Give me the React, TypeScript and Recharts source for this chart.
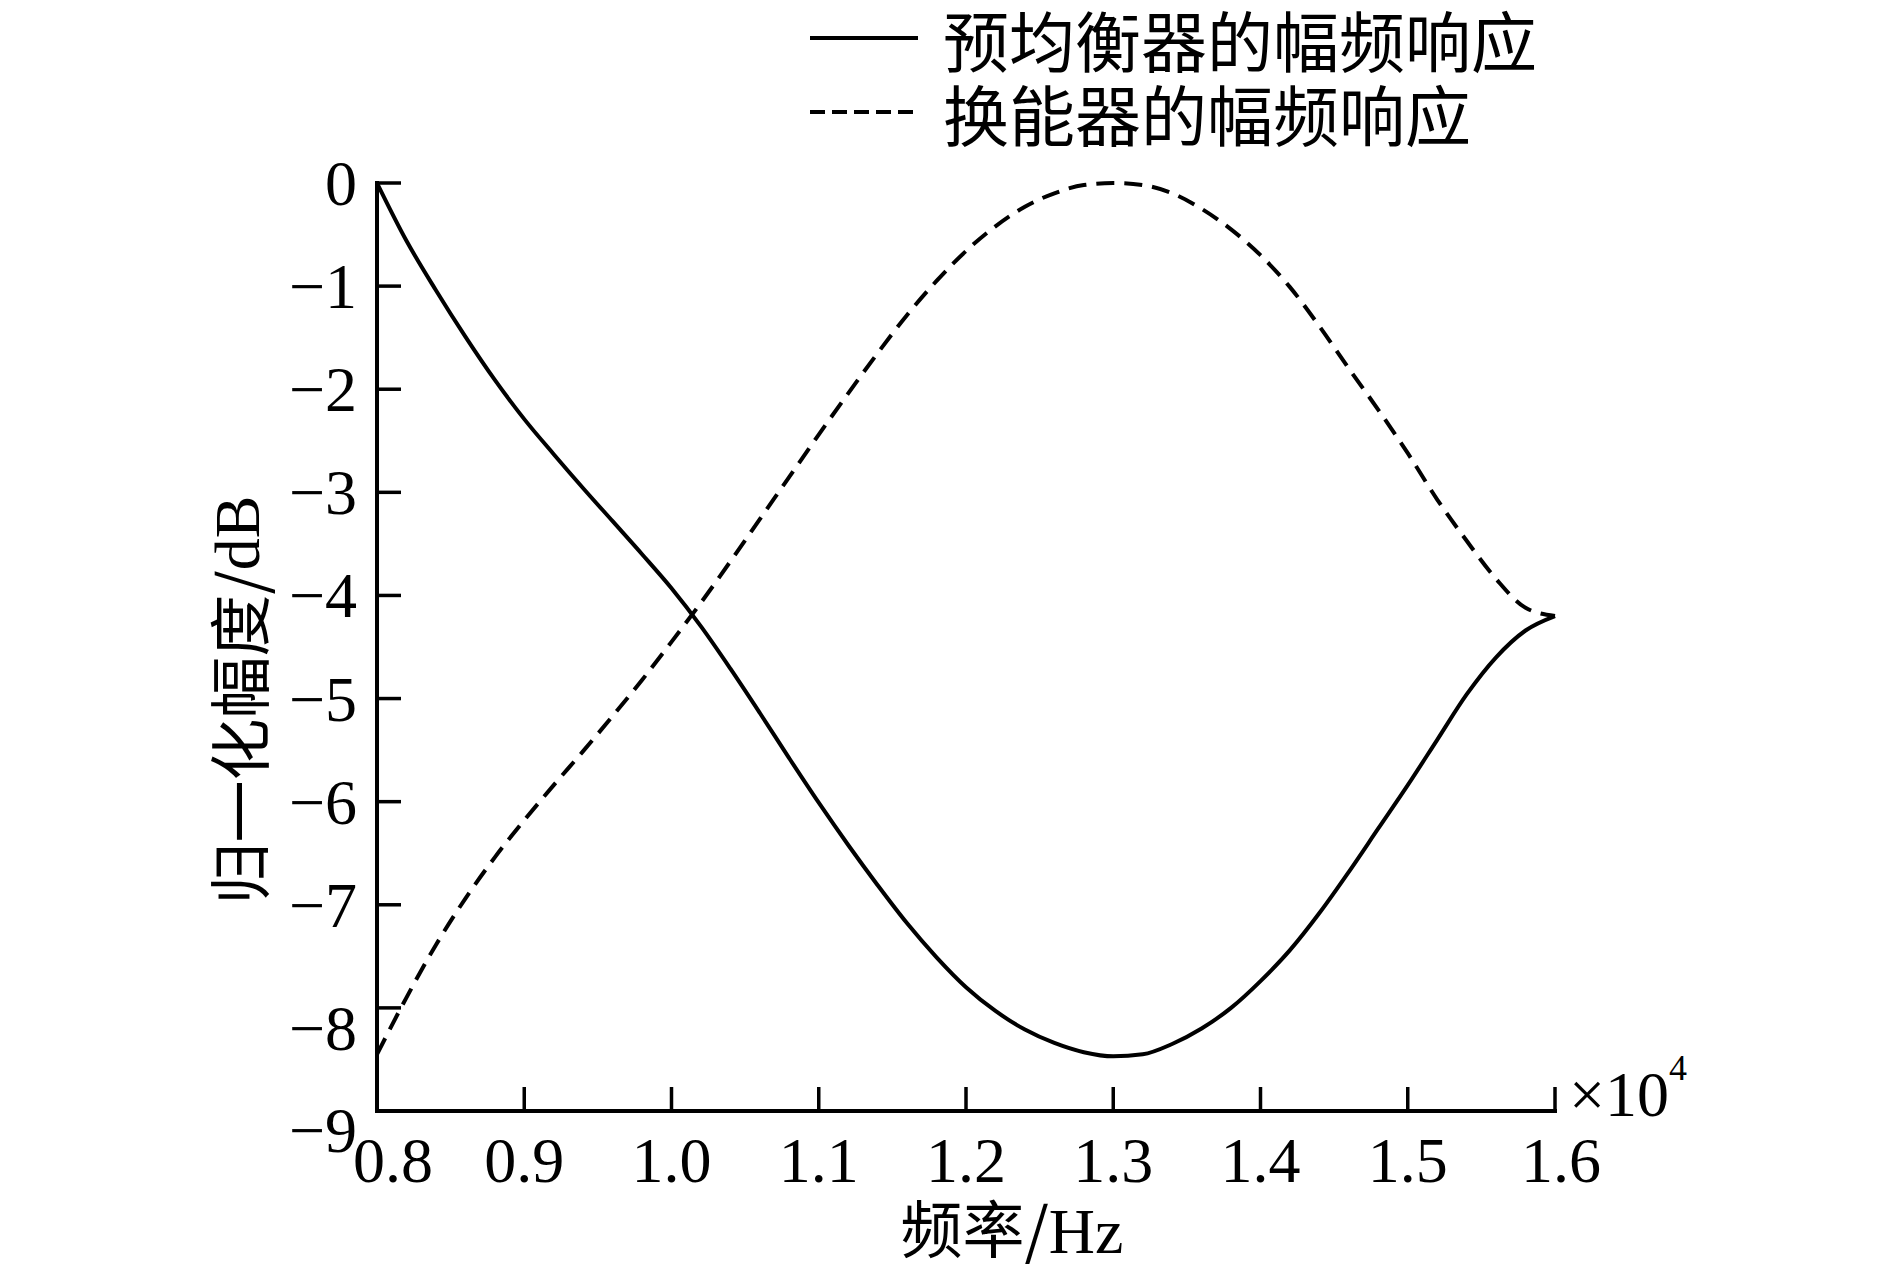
import { LineChart, Line, XAxis, YAxis, Label } from "recharts";

// frequency in units of 1e4 Hz
const freq = [
  0.8, 0.82, 0.84, 0.86, 0.88, 0.9, 0.92, 0.94, 0.96, 0.98, 1.0, 1.02, 1.04,
  1.06, 1.08, 1.1, 1.12, 1.14, 1.16, 1.18, 1.2, 1.22, 1.24, 1.26, 1.28, 1.3,
  1.32, 1.34, 1.36, 1.38, 1.4, 1.42, 1.44, 1.46, 1.48, 1.5, 1.52, 1.54, 1.56,
  1.58, 1.6,
];

// 预均衡器的幅频响应 (solid)
const equalizerDb = [
  0, -0.56, -1.04, -1.49, -1.91, -2.29, -2.63, -2.96, -3.28, -3.6, -3.93,
  -4.3, -4.71, -5.14, -5.58, -6.01, -6.42, -6.81, -7.18, -7.51, -7.8, -8.03,
  -8.21, -8.34, -8.43, -8.47, -8.45, -8.35, -8.2, -8.0, -7.74, -7.44, -7.08,
  -6.68, -6.26, -5.84, -5.4, -4.96, -4.6, -4.34, -4.2,
];

// 换能器的幅频响应 (dashed)
const transducerDb = [
  -8.45, -7.9, -7.39, -6.94, -6.54, -6.18, -5.84, -5.51, -5.17, -4.82, -4.45,
  -4.07, -3.67, -3.26, -2.85, -2.44, -2.04, -1.65, -1.28, -0.95, -0.66, -0.42,
  -0.23, -0.1, -0.02, 0, -0.02, -0.1, -0.25, -0.45, -0.7, -1.01, -1.39, -1.8,
  -2.2, -2.62, -3.07, -3.47, -3.84, -4.12, -4.2,
];

const xTicks = [0.8, 0.9, 1.0, 1.1, 1.2, 1.3, 1.4, 1.5, 1.6];
const yTicks = [0, -1, -2, -3, -4, -5, -6, -7, -8, -9];

const legendItems = ["预均衡器的幅频响应", "换能器的幅频响应"];

const chartData = freq.map((f, i) => ({
  f,
  eq: equalizerDb[i],
  tr: transducerDb[i],
}));

const SERIF = "'Liberation Serif', 'Times New Roman', serif";
const CJK = "'Noto Sans CJK SC', sans-serif";
const DASH = "18 10";

// the original figure nudges a few labels away from the curves
const yLabelNudge: Record<number, number> = { [-8]: 20, [-9]: 19 };
const xLabelNudge: Record<number, number> = { 0.8: 16, 1.6: 6 };

const YTick = (props: any) => {
  const { x, y, payload } = props;
  const v = payload.value as number;
  const txt = v === 0 ? "0" : "\u2212" + Math.abs(v);
  return (
    <g>
      <line x1={x} x2={x + 24} y1={y} y2={y} stroke="#000" strokeWidth={3.5} />
      <text
        x={x - 20}
        y={y + 22 + (yLabelNudge[v] || 0)}
        textAnchor="end"
        fontFamily={SERIF}
        fontSize={64}
        fill="#000"
      >
        {txt}
      </text>
    </g>
  );
};

const XTick = (props: any) => {
  const { x, y, payload } = props;
  const v = payload.value as number;
  return (
    <g>
      <line x1={x} x2={x} y1={y} y2={y - 24} stroke="#000" strokeWidth={3.5} />
      <text
        x={x + (xLabelNudge[v] || 0)}
        y={y + 71}
        textAnchor="middle"
        fontFamily={SERIF}
        fontSize={64}
        fill="#000"
      >
        {v.toFixed(1)}
      </text>
    </g>
  );
};

export default function App() {
  return (
    <div
      style={{
        position: "absolute",
        left: 0,
        top: 0,
        width: 1889,
        height: 1267,
        background: "#fff",
      }}
    >
      <LineChart
        width={1889}
        height={1267}
        data={chartData}
        margin={{ top: 183, right: 334, bottom: 96, left: 277 }}
      >
        <XAxis
          type="number"
          dataKey="f"
          domain={[0.8, 1.6]}
          ticks={xTicks}
          height={60}
          tickSize={0}
          tickMargin={0}
          tickLine={false}
          tick={<XTick />}
          axisLine={{ stroke: "#000", strokeWidth: 4, strokeLinecap: "square" }}
        >
          <Label
            content={(p: any) => {
              const vb = p.viewBox;
              return (
                <g>
                  <text
                    x={vb.x + vb.width + 14}
                    y={vb.y + 5}
                    fontFamily={SERIF}
                    fontSize={64}
                    fill="#000"
                  >
                    ×10
                    <tspan fontSize={36} dy={-36}>
                      4
                    </tspan>
                  </text>
                  <text
                    x={vb.x + vb.width / 2 + 46}
                    y={vb.y + 142}
                    textAnchor="middle"
                    fontFamily={CJK}
                    fontSize={62}
                    fill="#000"
                  >
                    频率/
                    <tspan fontFamily={SERIF} fontSize={64}>
                      Hz
                    </tspan>
                  </text>
                </g>
              );
            }}
          />
        </XAxis>
        <YAxis
          type="number"
          domain={[-9, 0]}
          ticks={yTicks}
          width={100}
          tickSize={0}
          tickMargin={0}
          tickLine={false}
          tick={<YTick />}
          axisLine={{ stroke: "#000", strokeWidth: 4, strokeLinecap: "square" }}
        >
          <Label
            content={(p: any) => {
              const vb = p.viewBox;
              const cx = vb.x - 40;
              const cy = vb.y + vb.height / 2 + 53;
              return (
                <text
                  x={cx}
                  y={cy}
                  transform={`rotate(-90 ${cx} ${cy})`}
                  textAnchor="middle"
                  dominantBaseline="central"
                  fontFamily={CJK}
                  fontSize={62}
                  fill="#000"
                >
                  归一化幅度/
                  <tspan fontFamily={SERIF} fontSize={64}>
                    dB
                  </tspan>
                </text>
              );
            }}
          />
        </YAxis>
        <Line
          type="monotone"
          dataKey="eq"
          stroke="#000"
          strokeWidth={4}
          dot={false}
          isAnimationActive={false}
        />
        <Line
          type="monotone"
          dataKey="tr"
          stroke="#000"
          strokeWidth={4}
          strokeDasharray={DASH}
          dot={false}
          isAnimationActive={false}
        />
      </LineChart>
      <svg
        width={1889}
        height={160}
        style={{ position: "absolute", left: 0, top: 0, pointerEvents: "none" }}
      >
        {legendItems.map((name, i) => {
          const cy = 38 + i * 74;
          return (
            <g key={name}>
              <line
                x1={810}
                x2={918}
                y1={cy}
                y2={cy}
                stroke="#000"
                strokeWidth={4}
                strokeDasharray={i === 1 ? "15 7" : undefined}
              />
              <text
                x={943}
                y={cy}
                dominantBaseline="central"
                fontFamily={CJK}
                fontSize={66}
                fill="#000"
              >
                {name}
              </text>
            </g>
          );
        })}
      </svg>
    </div>
  );
}
